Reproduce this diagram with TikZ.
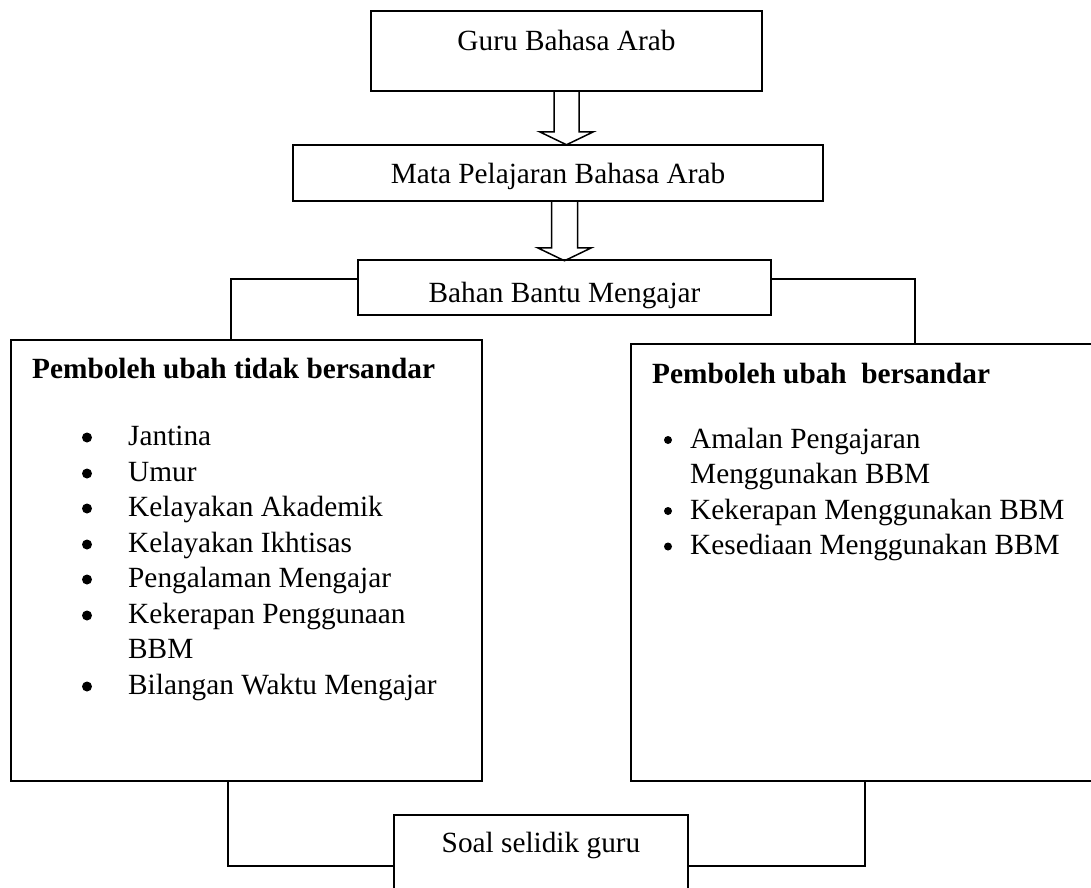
\documentclass[tikz,border=0pt]{standalone}
\usepackage{fontspec}
\setmainfont{Liberation Serif}
\usetikzlibrary{calc}

\begin{document}
\begin{tikzpicture}[x=1pt,y=-1pt,
  every node/.append style={font=\fontsize{29.3}{35.5}\selectfont},
  kotak/.style={draw,line width=1.5pt,inner sep=0pt,text height=20pt},
  teks/.style={anchor=base west,inner sep=0pt},
  garis/.style={line width=1.5pt},
  panah/.style={line width=1.5pt,line join=miter}]
\useasboundingbox (0,0) rectangle (1091,887);

%kotak atas
\node[kotak,minimum width=391pt,minimum height=80pt,text depth=22pt] (guru) at (566.5,51) {Guru Bahasa Arab};
\node[kotak,minimum width=530pt,minimum height=56pt,text depth=0pt] (mata) at (558,173) {Mata Pelajaran Bahasa Arab};
\node[kotak,minimum width=413pt,minimum height=55pt,text height=35pt,text depth=6pt] (bahan) at (564.5,287.5) {Bahan Bantu Mengajar};

%kotak pemboleh ubah
\node[kotak,minimum width=471pt,minimum height=441pt] (kiri) at (246.5,560.5) {};
\node[kotak,minimum width=469pt,minimum height=437pt] (kanan) at (865.5,562.5) {};
\node[kotak,minimum width=294pt,minimum height=102pt,text depth=48pt] (soal) at (541,866) {Soal selidik guru};

%anak panah
\draw[panah] ($(guru.south)+(-12.5,0)$) -- ++(0,40) -- ++(-14.5,0) -- ++(27,13) -- ++(27,-13) -- ++(-14.5,0) -- ++(0,-40);
\draw[panah] ($(bahan.north |- mata.south)+(-13,0)$) -- ++(0,46) -- ++(-14,0) -- ++(27,13) -- ++(27,-13) -- ++(-14,0) -- ++(0,-46);

%garis penghubung
\draw[garis] ([yshift=8.5pt]bahan.west) -| ([xshift=-15.5pt]kiri.north);
\draw[garis] ([yshift=8.5pt]bahan.east) -| ([xshift=49.5pt]kanan.north);
\draw[garis] ([xshift=-18.5pt]kiri.south) |- (soal.west);
\draw[garis] ([xshift=-0.5pt]kanan.south) |- (soal.east);

%tidak bersandar
\node[teks] (tajukkiri) at (32,378) {\textbf{Pemboleh ubah tidak bersandar}};
\fill (87,437.5) circle (5);
\node[teks] (k1) at (128,445) {Jantina};
\fill (87,473.5) circle (5);
\node[teks] (k2) at (128,481) {Umur};
\fill (87,508.5) circle (5);
\node[teks] (k3) at (128,516) {Kelayakan Akademik};
\fill (87,544.5) circle (5);
\node[teks] (k4) at (128,552) {Kelayakan Ikhtisas};
\fill (87,579.5) circle (5);
\node[teks] (k5) at (128,587) {Pengalaman Mengajar};
\fill (87,615.5) circle (5);
\node[teks] (k6) at (128,623) {Kekerapan Penggunaan};
\node[teks] (k6b) at (128,658) {BBM};
\fill (87,686.5) circle (5);
\node[teks] (k7) at (128,694) {Bilangan Waktu Mengajar};

%bersandar
\node[teks] (tajukkanan) at (652,383) {\textbf{Pemboleh ubah\ \ bersandar}};
\fill (668,440) circle (4);
\node[teks] (j1) at (690,448) {Amalan Pengajaran};
\node[teks] (j1b) at (690,483.5) {Menggunakan BBM};
\fill (668,511) circle (4);
\node[teks] (j2) at (690,519) {Kekerapan Menggunakan BBM};
\fill (668,546.5) circle (4);
\node[teks] (j3) at (690,554.5) {Kesediaan Menggunakan BBM};

\end{tikzpicture}
\end{document}
